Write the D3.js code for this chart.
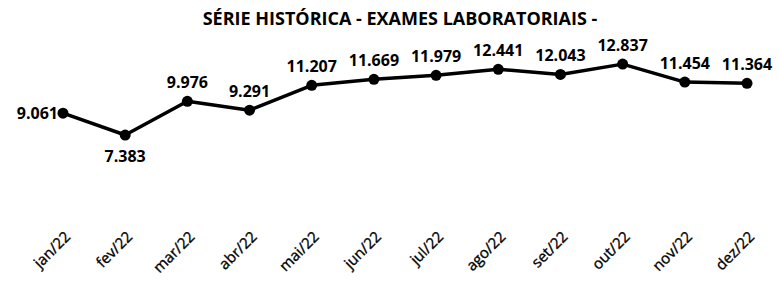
<!DOCTYPE html>
<meta charset="utf-8">
<script src="https://d3js.org/d3.v7.min.js"></script>
<html>
<head>
<style>
body { margin: 0; background: #fff; }
text { font-family: "Open Sans", sans-serif; }
</style>
</head>
<body>
<div id="chart"></div>
<script>
  // monthly totals (exames laboratoriais)
  var months = ["jan/22", "fev/22", "mar/22", "abr/22", "mai/22", "jun/22",
                "jul/22", "ago/22", "set/22", "out/22", "nov/22", "dez/22"];
  var exams = [9061, 7383, 9976, 9291, 11207, 11669, 11979, 12441, 12043, 12837, 11454, 11364];
  var title = "SÉRIE HISTÓRICA - EXAMES LABORATORIAIS -";

  var width = 779, height = 281;

  var svg = d3.select("#chart")
    .append("svg")
      .attr("width", width)
      .attr("height", height);

  var data = months.map(function(m, i) { return { month: m, value: exams[i] }; });

  // pt-BR number format: 9.061
  var ptBR = d3.formatLocale({ decimal: ",", thousands: ".", grouping: [3], currency: ["R$", ""] });
  var fmt = ptBR.format(",d");

  var x = d3.scalePoint()
    .domain(months)
    .range([63, 747]);

  var y = d3.scaleLinear()
    .domain([0, 14000])
    .range([231, 49]);

  // title
  svg.append("text")
    .attr("x", 400)
    .attr("y", 25)
    .attr("text-anchor", "middle")
    .style("font-size", "18px")
    .style("font-weight", "bold")
    .text(title);

  // x axis, labels only
  var xAxis = svg.append("g")
    .attr("transform", "translate(0,234)")
    .call(d3.axisBottom(x).tickSize(0).tickPadding(0));
  xAxis.select(".domain").remove();
  xAxis.selectAll("text")
    .style("font-family", "'Open Sans', sans-serif")
    .style("font-size", "15px")
    .attr("fill", "#000")
    .attr("stroke", "#000")
    .attr("stroke-width", 0.35)
    .attr("text-anchor", "end")
    .attr("dy", "0.35em")
    .attr("transform", "translate(4,0) rotate(-45)");

  // line
  svg.append("path")
    .datum(data)
    .attr("fill", "none")
    .attr("stroke", "#000")
    .attr("stroke-width", 3.5)
    .attr("stroke-linejoin", "round")
    .attr("d", d3.line()
      .x(function(d) { return x(d.month); })
      .y(function(d) { return y(d.value); }));

  // markers
  svg.append("g")
    .selectAll("circle")
    .data(data)
    .enter()
    .append("circle")
      .attr("cx", function(d) { return x(d.month); })
      .attr("cy", function(d) { return y(d.value); })
      .attr("r", 5.5)
      .attr("fill", "#000");

  // value labels: first to the left, second below, the rest above
  svg.append("g")
    .selectAll("text")
    .data(data)
    .enter()
    .append("text")
      .style("font-size", "16px")
      .style("font-weight", "bold")
      .attr("text-anchor", function(d, i) { return i === 0 ? "end" : "middle"; })
      .attr("x", function(d, i) { return i === 0 ? x(d.month) - 5 : x(d.month); })
      .attr("y", function(d, i) {
        if (i === 0) return y(d.value) + 6;
        if (i === 1) return y(d.value) + 27;
        return y(d.value) - 13;
      })
      .text(function(d) { return fmt(d.value); });
</script>
</body>
</html>
